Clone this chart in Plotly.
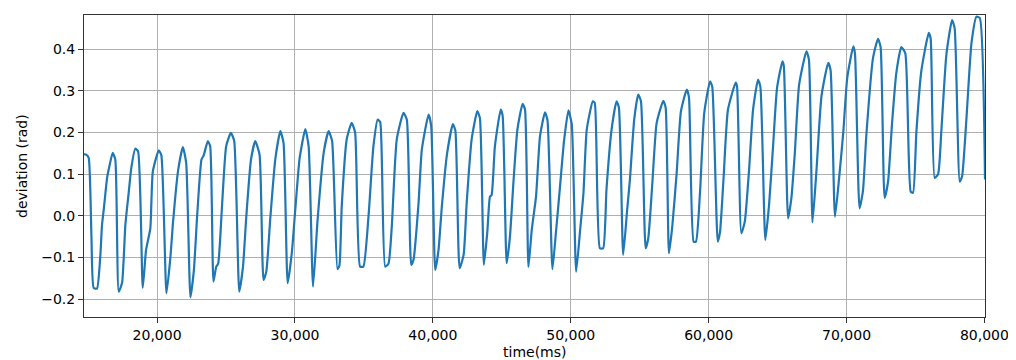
import plotly.graph_objects as go

time_ms = [
    14700, 14880, 15040, 15240, 15400, 15640, 15880, 16005, 16130, 16370, 16550, 16780,
    16970, 17220, 17460, 17700, 17940, 18130, 18420, 18620, 18960, 19200, 19510, 19690,
    20120, 20310, 20680, 20970, 21140, 21530, 21870, 22110, 22420, 22670, 22910, 23220,
    23380, 23680, 23850, 24090, 24290, 24430, 24700, 25010, 25350, 25590, 25960, 26230,
    26470, 26810, 27120, 27430, 27720, 27920, 28210, 28570, 28940, 29170, 29470, 29780,
    30020, 30340, 30750, 30990, 31310, 31640, 32080, 32440, 32690, 33080, 33220, 33390,
    33750, 34110, 34360, 34720, 34960, 35330, 35690, 36000, 36180, 36540, 36780, 37020,
    37380, 37870, 38110, 38430, 38600, 38960, 39200, 39690, 39880, 40170, 40410, 40650,
    41020, 41450, 41630, 41940, 42230, 42450, 42810, 43220, 43410, 43700, 43950, 44140,
    44260, 44500, 44920, 45060, 45350, 45590, 45840, 46130, 46510, 46680, 46930, 47170,
    47480, 47770, 48130, 48310, 48670, 48930, 49220, 49510, 49830, 50070, 50390, 50680,
    50920, 51160, 51600, 51740, 52110, 52350, 52590, 52960, 53320, 53490, 53800, 54090,
    54290, 54600, 54890, 55090, 55430, 55620, 55910, 56230, 56710, 56880, 57120, 57360,
    57680, 57990, 58410, 58570, 58910, 59080, 59370, 59680, 60100, 60260, 60660, 60820,
    61080, 61400, 61960, 62060, 62370, 62620, 62930, 63220, 63580, 63750, 64110, 64380,
    64670, 64960, 65350, 65450, 65760, 66000, 66250, 66560, 67090, 67270, 67530, 67820,
    68180, 68670, 68840, 69160, 69470, 69760, 70050, 70490, 70610, 70940, 71190, 71430,
    71920, 72280, 72470, 72760, 73010, 73300, 73610, 73970, 74260, 74650, 74820, 75060,
    75420, 75960, 76100, 76390, 76640, 76880, 77240, 77650, 77840, 78210, 78380, 78690,
    79060, 79420, 79660, 80040,
]

deviation_rad = [
    0.148, 0.146, 0.139, -0.050, -0.173, -0.175, -0.098, -0.022, 0.014, 0.090, 0.120, 0.151,
    0.135, -0.182, -0.161, -0.022, 0.055, 0.115, 0.161, 0.155, -0.173, -0.082, -0.030, 0.106,
    0.157, 0.145, -0.186, -0.098, -0.022, 0.110, 0.165, 0.127, -0.196, -0.130, 0.002, 0.135,
    0.145, 0.179, 0.167, -0.158, -0.122, -0.115, 0.018, 0.167, 0.199, 0.180, -0.182, -0.122,
    -0.002, 0.135, 0.179, 0.147, -0.154, -0.134, -0.006, 0.135, 0.203, 0.175, -0.162, -0.086,
    0.014, 0.139, 0.208, 0.167, -0.170, -0.010, 0.151, 0.203, 0.180, -0.128, -0.120, 0.022,
    0.183, 0.223, 0.200, -0.122, -0.122, -0.002, 0.167, 0.231, 0.225, -0.122, -0.115, -0.026,
    0.183, 0.247, 0.231, -0.118, -0.105, 0.030, 0.159, 0.243, 0.215, -0.130, -0.082, 0.022,
    0.147, 0.220, 0.205, -0.126, -0.094, 0.030, 0.183, 0.251, 0.235, -0.118, -0.038, 0.046,
    0.050, 0.167, 0.255, 0.240, -0.114, -0.050, 0.079, 0.207, 0.269, 0.255, -0.123, -0.034,
    0.046, 0.191, 0.248, 0.230, -0.128, -0.038, 0.070, 0.179, 0.253, 0.220, -0.134, -0.034,
    0.054, 0.207, 0.275, 0.271, -0.078, -0.078, 0.063, 0.207, 0.275, 0.260, -0.094, 0.014,
    0.087, 0.231, 0.291, 0.275, -0.078, -0.054, 0.075, 0.223, 0.276, 0.260, -0.090, -0.026,
    0.103, 0.251, 0.303, 0.285, -0.062, -0.062, 0.054, 0.247, 0.323, 0.310, -0.062, -0.040,
    0.090, 0.255, 0.320, 0.310, -0.042, -0.014, 0.110, 0.255, 0.327, 0.310, -0.058, 0.026,
    0.167, 0.307, 0.371, 0.360, -0.006, 0.043, 0.151, 0.315, 0.395, 0.375, -0.016, 0.110,
    0.287, 0.367, 0.350, -0.002, 0.094, 0.199, 0.331, 0.407, 0.390, 0.018, 0.060, 0.191,
    0.379, 0.425, 0.405, 0.043, 0.082, 0.223, 0.343, 0.405, 0.390, 0.058, 0.055, 0.199,
    0.347, 0.439, 0.425, 0.091, 0.100, 0.207, 0.387, 0.470, 0.450, 0.082, 0.095, 0.231,
    0.415, 0.478, 0.475, 0.087,
]

x_tick_vals = [20000, 30000, 40000, 50000, 60000, 70000, 80000]
x_tick_text = ["20,000", "30,000", "40,000", "50,000", "60,000", "70,000", "80,000"]
y_tick_vals = [-0.2, -0.1, 0.0, 0.1, 0.2, 0.3, 0.4]
y_tick_text = ["\u22120.2", "\u22120.1", "0.0", "0.1", "0.2", "0.3", "0.4"]
x_title = "time(ms)"
y_title = "deviation (rad)"

font_family = "DejaVu Sans"

fig = go.Figure()
fig.add_trace(go.Scatter(
    x=time_ms, y=deviation_rad, mode="lines",
    line=dict(color="#1f77b4", width=2.2, shape="spline", smoothing=0.5),
    hoverinfo="skip", showlegend=False,
))

axis_common = dict(
    showgrid=True, gridcolor="#b0b0b0", gridwidth=1,
    showline=True, linecolor="#333333", linewidth=1, mirror=True,
    ticks="outside", ticklen=5, tickcolor="#333333", tickwidth=1,
    zeroline=False, automargin=False,
    tickfont=dict(family=font_family, size=14, color="#000000"),
)

fig.update_layout(
    width=1008, height=352,
    margin=dict(l=76, r=31, t=7, b=43),
    paper_bgcolor="white", plot_bgcolor="white",
    font=dict(family=font_family, size=14, color="#000000"),
    xaxis=dict(
        range=[time_ms[0], time_ms[-1]],
        tickvals=x_tick_vals, ticktext=x_tick_text,
        **axis_common,
    ),
    yaxis=dict(
        range=[-0.243, 0.482],
        tickvals=y_tick_vals, ticktext=y_tick_text,
        **axis_common,
    ),
    annotations=[
        dict(text=x_title, xref="paper", yref="paper", x=0.5, y=0,
             xanchor="center", yanchor="middle", yshift=-35, showarrow=False,
             font=dict(family=font_family, size=14, color="#000000")),
        dict(text=y_title, xref="paper", yref="paper", x=0, y=0.5,
             xanchor="center", yanchor="middle", xshift=-62, textangle=-90,
             showarrow=False,
             font=dict(family=font_family, size=14, color="#000000")),
    ],
)

fig.write_html("out.html")
